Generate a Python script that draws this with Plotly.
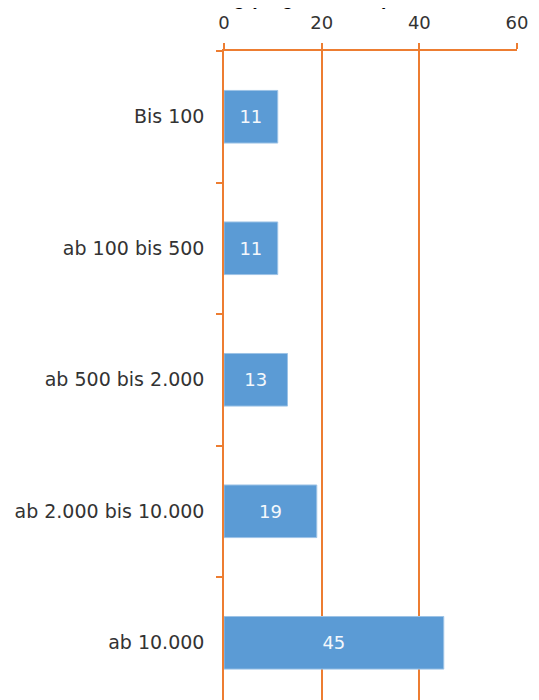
import plotly.graph_objects as go

# Größenklassen und Anteile (in %)
categories = ["Bis 100", "ab 100 bis 500", "ab 500 bis 2.000", "ab 2.000 bis 10.000", "ab 10.000"]
values = [11, 11, 13, 19, 45]
x_ticks = [0, 20, 40, 60]

ORANGE = "#ED7D31"
BLUE = "#5B9BD5"
TEXT = "#333333"
FONT = "DejaVu Sans"

fig = go.Figure()

fig.add_trace(go.Bar(
    x=values,
    y=categories,
    orientation="h",
    marker=dict(color=BLUE, line=dict(color="#9DC3E6", width=1)),
    text=[str(v) for v in values],
    textposition="inside",
    insidetextanchor="middle",
    textfont=dict(color="#F4F8FC", size=18, family=FONT),
    constraintext="none",
    hoverinfo="skip",
))

# Titel liegt größtenteils oberhalb des sichtbaren Bereichs (wie im Original abgeschnitten)
fig.add_annotation(
    text="<b>Verteilung (Angaben in %)</b>",
    xref="paper", yref="paper",
    x=-0.25, y=1.0615,
    xanchor="left", yanchor="bottom",
    showarrow=False,
    font=dict(size=19, color="#000000", family="Liberation Sans"),
)

fig.update_xaxes(
    side="top",
    range=[0, 60],
    tickvals=x_ticks,
    showgrid=True,
    gridcolor=ORANGE,
    gridwidth=1.5,
    zeroline=False,
    showline=True,
    linecolor=ORANGE,
    linewidth=1.5,
    ticks="outside",
    ticklen=6,
    tickwidth=1.5,
    tickcolor=ORANGE,
    tickfont=dict(size=18, color=TEXT, family=FONT),
    ticklabelstandoff=7,
    automargin=False,
)

fig.update_yaxes(
    type="category",
    categoryorder="array",
    categoryarray=categories,
    range=[4.435, -0.5],
    showline=True,
    linecolor=ORANGE,
    linewidth=1.5,
    ticks="outside",
    tickson="boundaries",
    ticklen=6,
    tickwidth=1.5,
    tickcolor=ORANGE,
    tickfont=dict(size=19, color=TEXT, family=FONT),
    ticklabelstandoff=14,
    showgrid=False,
    automargin=False,
)

# Seite hat 8px Rand, daher etwas kleiner als das Fenster
fig.update_layout(
    width=531,
    height=692,
    margin=dict(l=216, r=22, t=43, b=0),
    plot_bgcolor="white",
    paper_bgcolor="white",
    font=dict(family=FONT, color=TEXT),
    bargap=0.6,
    showlegend=False,
)

fig.write_html("out.html")
